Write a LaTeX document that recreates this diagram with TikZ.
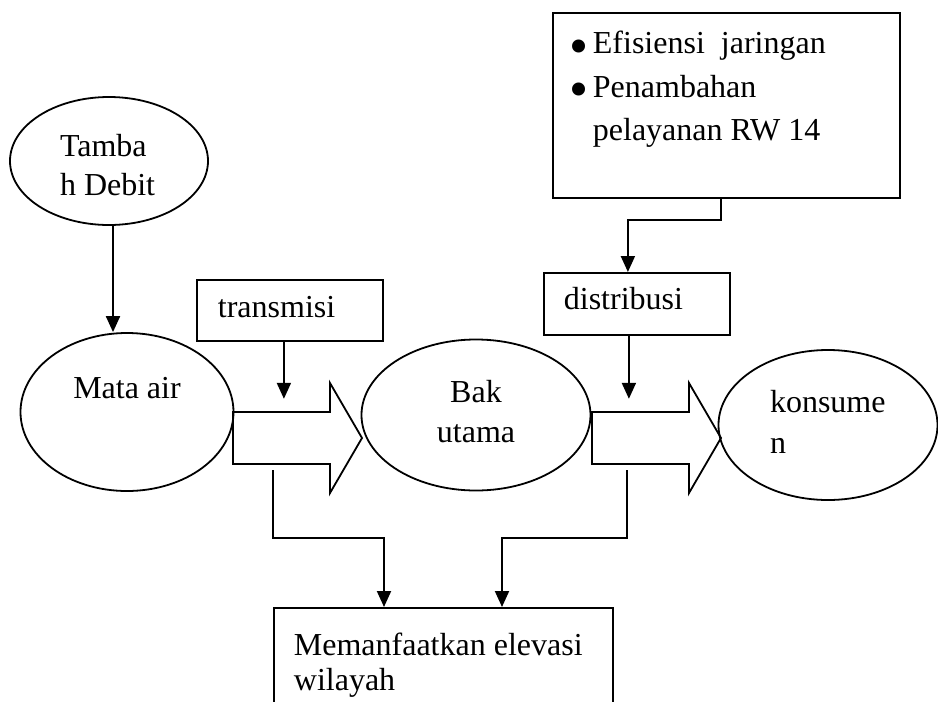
\documentclass[tikz,border=0pt]{standalone}
\usepackage{fontspec}
\setmainfont{Liberation Serif}
\usetikzlibrary{arrows.meta,shapes.geometric}
\newcommand{\itemdot}{\makebox[20pt][l]{\hspace*{-3pt}\raisebox{-10.5pt}{\scalebox{1.7}{\textbullet}}}}
\tikzset{
  every node/.style={font=\fontsize{32}{40}\selectfont},
  flow/.style={line width=2pt,-{Triangle[length=16pt,width=14pt]}},
  pipe/.style={draw,line width=1.8pt,line join=miter},
  oval/.style={draw,ellipse,line width=1.8pt,inner sep=0pt,text height=22pt},
  textbox/.style={draw,rectangle,line width=1.8pt,anchor=north west,align=flush left,text height=22pt}
}
\begin{document}
\begin{tikzpicture}[x=1pt,y=-1pt]
\useasboundingbox (0,0) rectangle (938,702);
\clip (0,0) rectangle (938,702);

\node[oval,minimum width=198pt,minimum height=128pt,text width=98pt,align=flush left,text depth=32pt,font=\fontsize{32}{39}\selectfont] (tambah) at (109,161) {Tamba\\h Debit};
\node[oval,minimum width=213pt,minimum height=158pt,text width=150pt,align=flush center,text depth=50pt] (mata) at (127,412) {Mata air};
\node[oval,minimum width=229pt,minimum height=151pt,text width=130pt,align=flush center,text depth=48pt] (bak) at (476,415) {Bak\\utama};
\node[oval,minimum width=219pt,minimum height=150pt,text width=116pt,align=flush left,text depth=48pt,font=\fontsize{32}{41}\selectfont] (konsumen) at (828,425) {konsume\\n};

\node[textbox,inner xsep=21pt,inner ysep=16pt,text width=144pt,text depth=7pt] (transmisi) at (196,279) {transmisi};
\node[textbox,inner xsep=20pt,inner ysep=15pt,text width=146pt,text depth=10pt] (distribusi) at (543,272) {distribusi};
\node[textbox,inner xsep=20pt,inner ysep=19pt,text width=307pt,text depth=125pt,font=\fontsize{32}{43.5}\selectfont] (info) at (552,12)
  {\itemdot Efisiensi~ jaringan\\ \itemdot Penambahan\\ \hspace*{20pt}pelayanan RW 14};
\node[textbox,inner xsep=20pt,inner ysep=26pt,text width=299pt,text depth=59pt,font=\fontsize{32}{35}\selectfont] (elevasi) at (273,607) {Memanfaatkan elevasi\\wilayah};

\coordinate (pipe1) at (233,438);
\coordinate (pipe2) at (592,438);
\foreach \p in {pipe1,pipe2}
  \draw[pipe] (\p) ++(0,-26) -- ++(97,0) -- ++(0,-29) -- ++(32,55) -- ++(-32,55) -- ++(0,-29) -- ++(-97,0) -- cycle;

\draw[flow] ([xshift=4pt]tambah.south) -- ([xshift=4pt]tambah.south |- mata.north);
\draw[flow] ([xshift=-6pt]transmisi.south) -- ++(0,57);
\draw[flow] ([xshift=-5.5pt]info.south) -- ++(0,21) -| ([xshift=-9pt]distribusi.north);
\draw[flow] ([xshift=-8pt]distribusi.south) -- ++(0,63);
\draw[flow] ([shift={(40,32)}]pipe1) -- ++(0,68) -| ([xshift=111pt]elevasi.north west);
\draw[flow] ([shift={(35,32)}]pipe2) -- ++(0,68) -| ([xshift=229pt]elevasi.north west);
\end{tikzpicture}
\end{document}
